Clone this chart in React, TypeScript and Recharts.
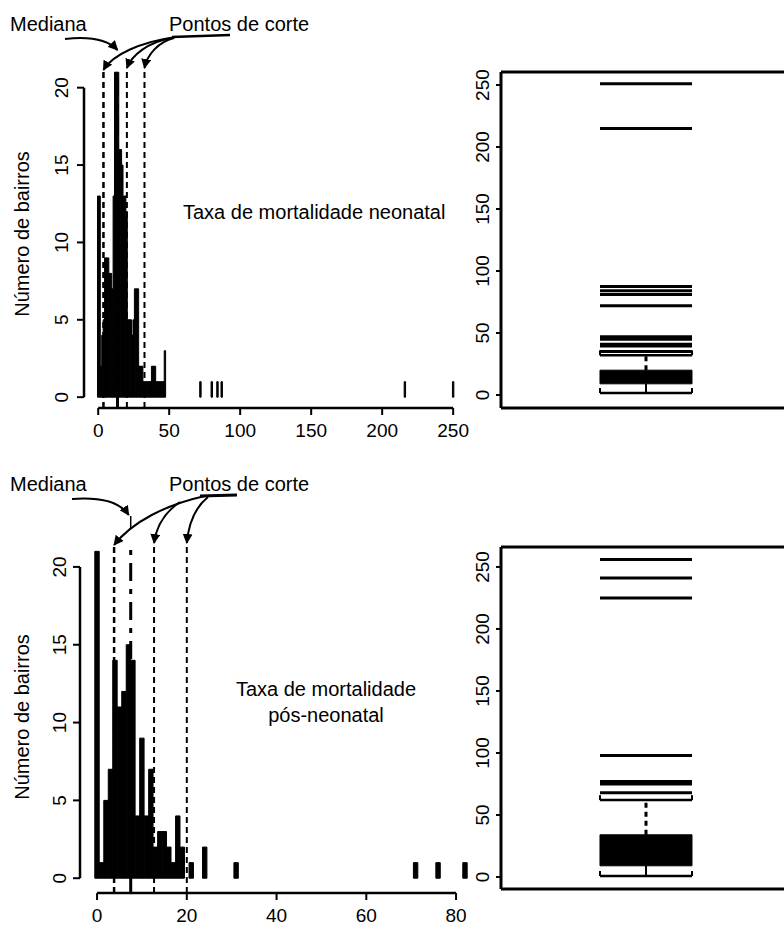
import React from "react";
import { Bar, ComposedChart, ReferenceArea, ReferenceLine, Scatter, XAxis, YAxis } from "recharts";

const FONT = '"Liberation Sans", Arial, Helvetica, sans-serif';

// Taxa de mortalidade neonatal: valor da taxa -> número de bairros
const neoRates = [
  0, 1, 2, 3, 4, 5, 6, 7, 8, 9, 10, 11, 12, 13, 14, 15, 16, 17, 18, 19, 20, 21, 22, 23, 24, 25, 26, 27, 28, 29, 30, 31,
  32, 33, 34, 35, 36, 37, 38, 39, 40, 41, 42, 43, 44, 45, 46, 47, 72, 80, 84, 87, 216, 250,
];
const neoCounts = [
  13, 13, 2, 4, 5, 9, 9, 9, 8, 8, 7, 13, 21, 21, 21, 16, 16, 15, 13, 13, 12, 5, 5, 5, 4, 5, 7, 7, 7, 2, 2, 2, 1, 1, 1,
  1, 1, 1, 2, 2, 2, 1, 1, 1, 1, 1, 1, 3, 1, 1, 1, 1, 1, 1,
];
const neoCuts = [3.7, 20.2, 32.6];
const neoMedian = 13.6;
const neoTicks = [0, 50, 100, 150, 200, 250];

// Taxa de mortalidade pós-neonatal
const postRates = [0, 1, 2, 3, 4, 5, 6, 7, 8, 9, 10, 11, 12, 13, 14, 15, 16, 17, 18, 19, 21, 24, 31, 71, 76, 82];
const postCounts = [21, 1, 5, 7, 14, 11, 12, 15, 14, 4, 9, 4, 7, 2, 3, 3, 2, 1, 4, 2, 1, 2, 1, 1, 1, 1];
const postCuts = [3.8, 12.7, 20];
const postMedian = 7.5;
const postTicks = [0, 20, 40, 60, 80];

const countTicks = [0, 5, 10, 15, 20];

// boxplots: [whisker low, q1, q3, whisker high]
const neoBox = [1.6, 9, 20, 32];
const neoOutliers = [35, 39.5, 41, 45, 47, 72, 81, 84, 87.5, 215, 251];
const postBox = [0.8, 9, 34, 62];
const postOutliers = [68, 75, 77, 98, 225, 241, 256];
const boxTicks = [0, 50, 100, 150, 200, 250];

function RotTick(props: any) {
  const { y, payload, labelX } = props;
  return (
    <text
      x={labelX}
      y={y}
      transform={`rotate(-90 ${labelX} ${y})`}
      textAnchor="middle"
      dominantBaseline="central"
      fontSize={19}
      fontFamily={FONT}
      fill="#000"
    >
      {payload.value}
    </text>
  );
}

type HistProps = {
  rates: number[];
  counts: number[];
  cuts: number[];
  median: number;
  ticks: number[];
  xDomain: [number, number];
  yDomain: [number, number];
  width: number;
  height: number;
  top: number;
  right: number;
  yAxisWidth: number;
  xAxisHeight: number;
  barSize: number;
  labelX: number;
  lineTop: number;
};

function Histogram(p: HistProps) {
  const data = p.rates.map((x, i) => ({ x, n: p.counts[i] }));
  const y0 = p.yDomain[0];
  const x0 = p.xDomain[0];
  return (
    <ComposedChart
      width={p.width}
      height={p.height}
      data={data}
      barGap={0}
      barCategoryGap={0}
      margin={{ top: p.top, right: p.right, left: 0, bottom: 0 }}
    >
      <XAxis
        dataKey="x"
        type="number"
        domain={p.xDomain}
        allowDataOverflow
        ticks={p.ticks}
        interval={0}
        axisLine={false}
        tickLine={{ stroke: "#000", strokeWidth: 2 }}
        tickSize={7}
        tickMargin={9}
        height={p.xAxisHeight}
        tick={{ fontSize: 19, fill: "#000", fontFamily: FONT }}
      />
      <YAxis
        type="number"
        domain={p.yDomain}
        allowDataOverflow
        ticks={countTicks}
        interval={0}
        axisLine={false}
        tickLine={{ stroke: "#000", strokeWidth: 2 }}
        tickSize={7}
        width={p.yAxisWidth}
        tick={(t: any) => <RotTick {...t} labelX={p.labelX} />}
      />
      <Bar
        dataKey="n"
        fill="#000"
        stroke="#000"
        strokeWidth={1}
        barSize={p.barSize}
        isAnimationActive={false}
      />
      <ReferenceLine
        segment={[{ x: x0, y: 0 }, { x: x0, y: 20 }]}
        stroke="#000"
        strokeWidth={2.5}
      />
      <ReferenceLine
        segment={[{ x: p.ticks[0], y: y0 }, { x: p.ticks[p.ticks.length - 1], y: y0 }]}
        stroke="#000"
        strokeWidth={2.5}
      />
      {p.cuts.map((c, i) => (
        <ReferenceLine
          key={"c" + i}
          segment={[{ x: c, y: y0 }, { x: c, y: p.lineTop }]}
          stroke="#000"
          strokeWidth={i === 0 ? 2.5 : 2}
          strokeDasharray="6 4"
        />
      ))}
      <ReferenceLine
        segment={[{ x: p.median, y: y0 }, { x: p.median, y: p.lineTop }]}
        stroke="#000"
        strokeWidth={3}
        strokeDasharray="18 8 5 8"
      />
    </ComposedChart>
  );
}

type BoxProps = {
  stats: number[];
  outliers: number[];
  yDomain: [number, number];
  top: number;
  bottom: number;
  height: number;
};

const BOX_HALF_PX = 46;

function OutlierLine(props: any) {
  const { cx, cy } = props;
  return <line x1={cx - BOX_HALF_PX} x2={cx + BOX_HALF_PX} y1={cy} y2={cy} stroke="#000" strokeWidth={3} />;
}

function BoxPanel(p: BoxProps) {
  const [lo, q1, q3, hi] = p.stats;
  const data = p.outliers.map((v) => ({ x: 0, y: v }));
  const [ymin, ymax] = p.yDomain;
  const staple = (v: number, k: string) => [
    <ReferenceLine key={k + "h"} segment={[{ x: -0.5, y: v }, { x: 0.5, y: v }]} stroke="#000" strokeWidth={2.5} />,
    <ReferenceLine key={k + "l"} segment={[{ x: -0.5, y: v }, { x: -0.5, y: v + 4 }]} stroke="#000" strokeWidth={2} />,
    <ReferenceLine key={k + "r"} segment={[{ x: 0.5, y: v }, { x: 0.5, y: v + 4 }]} stroke="#000" strokeWidth={2} />,
  ];
  return (
    <ComposedChart width={364} height={p.height} data={data} margin={{ top: p.top, right: 0, left: 0, bottom: p.bottom }}>
      <XAxis dataKey="x" type="number" domain={[-1.576, 1.5]} allowDataOverflow hide />
      <YAxis
        type="number"
        domain={p.yDomain}
        allowDataOverflow
        ticks={boxTicks}
        interval={0}
        axisLine={{ stroke: "#000", strokeWidth: 3 }}
        tickLine={{ stroke: "#000", strokeWidth: 2 }}
        tickSize={5}
        width={81}
        tick={(t: any) => <RotTick {...t} labelX={63} />}
      />
      <ReferenceLine y={ymax} stroke="#000" strokeWidth={3} />
      <ReferenceLine y={ymin} stroke="#000" strokeWidth={3} />
      <ReferenceArea x1={-0.5} x2={0.5} y1={q1} y2={q3} fill="#000" fillOpacity={1} stroke="#000" />
      <ReferenceLine segment={[{ x: 0, y: lo }, { x: 0, y: q1 }]} stroke="#000" strokeWidth={2} />
      <ReferenceLine segment={[{ x: 0, y: q3 }, { x: 0, y: hi }]} stroke="#000" strokeWidth={3} strokeDasharray="5 4" />
      {staple(lo, "lo")}
      {staple(hi, "hi")}
      <Scatter dataKey="y" shape={<OutlierLine />} isAnimationActive={false} />
    </ComposedChart>
  );
}

// layout helpers (same numbers as the charts' margins / domains)
const tx = (v: number) => 84 + ((v + 10) * 372) / 262;
const bx = (v: number) => 80 + ((v + 3.8) * 394) / 87.8;

export default function App() {
  const txt = { fontFamily: FONT, fontSize: 20, fill: "#000" } as const;
  return (
    <div
      style={{ position: "absolute", left: 0, top: 0, width: 784, height: 928, overflow: "hidden", background: "#fff" }}
    >
      <div style={{ position: "absolute", left: 0, top: 0 }}>
        <Histogram
          rates={neoRates}
          counts={neoCounts}
          cuts={neoCuts}
          median={neoMedian}
          ticks={neoTicks}
          xDomain={[-10, 252]}
          yDomain={[-0.7, 22.5]}
          width={470}
          height={450}
          top={49}
          right={14}
          yAxisWidth={84}
          xAxisHeight={42}
          barSize={1.4}
          labelX={62}
          lineTop={21.15}
        />
      </div>
      <div style={{ position: "absolute", left: 0, top: 460 }}>
        <Histogram
          rates={postRates}
          counts={postCounts}
          cuts={postCuts}
          median={postMedian}
          ticks={postTicks}
          xDomain={[-3.8, 84]}
          yDomain={[-0.95, 22.5]}
          width={480}
          height={470}
          top={68}
          right={6}
          yAxisWidth={80}
          xAxisHeight={37}
          barSize={4.4}
          labelX={60}
          lineTop={21.5}
        />
      </div>
      <div style={{ position: "absolute", left: 420, top: 0 }}>
        <BoxPanel stats={neoBox} outliers={neoOutliers} yDomain={[-10.5, 260.5]} top={72} bottom={12} height={420} />
      </div>
      <div style={{ position: "absolute", left: 420, top: 460 }}>
        <BoxPanel stats={postBox} outliers={postOutliers} yDomain={[-9.7, 266.1]} top={87} bottom={11} height={440} />
      </div>
      <svg width={784} height={928} style={{ position: "absolute", left: 0, top: 0, pointerEvents: "none" }}>
        <defs>
          <marker id="ah" viewBox="0 0 10 10" refX="9" refY="5" markerWidth="5" markerHeight="5" orient="auto">
            <path d="M0 0 L10 5 L0 10 z" fill="#000" />
          </marker>
        </defs>
        {/* painel superior */}
        <text x={10} y={31} {...txt}>Mediana</text>
        <text x={169} y={31} {...txt}>Pontos de corte</text>
        <text x={183} y={219} {...txt}>Taxa de mortalidade neonatal</text>
        <text x={22} y={234} transform="rotate(-90 22 234)" textAnchor="middle" dominantBaseline="central" {...txt}>
          Número de bairros
        </text>
        <g fill="none" stroke="#000" strokeWidth={2}>
          <path d={`M65 39 C92 36, 108 40, ${tx(neoMedian)} 50`} markerEnd="url(#ah)" />
          <path d="M230 35 L172 37" strokeWidth={2.5} />
          <path d={`M176 37 C140 42, 112 55, ${tx(neoCuts[0])} 70`} markerEnd="url(#ah)" />
          <path d={`M172 38 C148 42, 132 55, ${tx(neoCuts[1])} 68`} markerEnd="url(#ah)" />
          <path d={`M174 38 C158 42, 147 55, ${tx(neoCuts[2])} 68`} markerEnd="url(#ah)" />
        </g>
        {/* painel inferior */}
        <text x={10} y={491} {...txt}>Mediana</text>
        <text x={169} y={491} {...txt}>Pontos de corte</text>
        <text x={326} y={696} textAnchor="middle" {...txt}>Taxa de mortalidade</text>
        <text x={326} y={722} textAnchor="middle" {...txt}>pós-neonatal</text>
        <text x={22} y={717} transform="rotate(-90 22 717)" textAnchor="middle" dominantBaseline="central" {...txt}>
          Número de bairros
        </text>
        <g fill="none" stroke="#000" strokeWidth={2}>
          <path d={`M72 499 C100 497, 120 502, ${bx(postMedian) - 2} 515`} markerEnd="url(#ah)" />
          <path d={`M${bx(postMedian)} 516 L${bx(postMedian)} 528`} strokeWidth={1.5} />
          <path d="M237 495 L200 496" strokeWidth={3} />
          <path d={`M205 496 C165 505, 132 522, ${bx(postCuts[0])} 545`} markerEnd="url(#ah)" />
          <path d={`M180 502 C168 510, 157 522, ${bx(postCuts[1])} 543`} markerEnd="url(#ah)" />
          <path d={`M208 497 C198 505, 189 520, ${bx(postCuts[2])} 543`} markerEnd="url(#ah)" />
        </g>
      </svg>
    </div>
  );
}
